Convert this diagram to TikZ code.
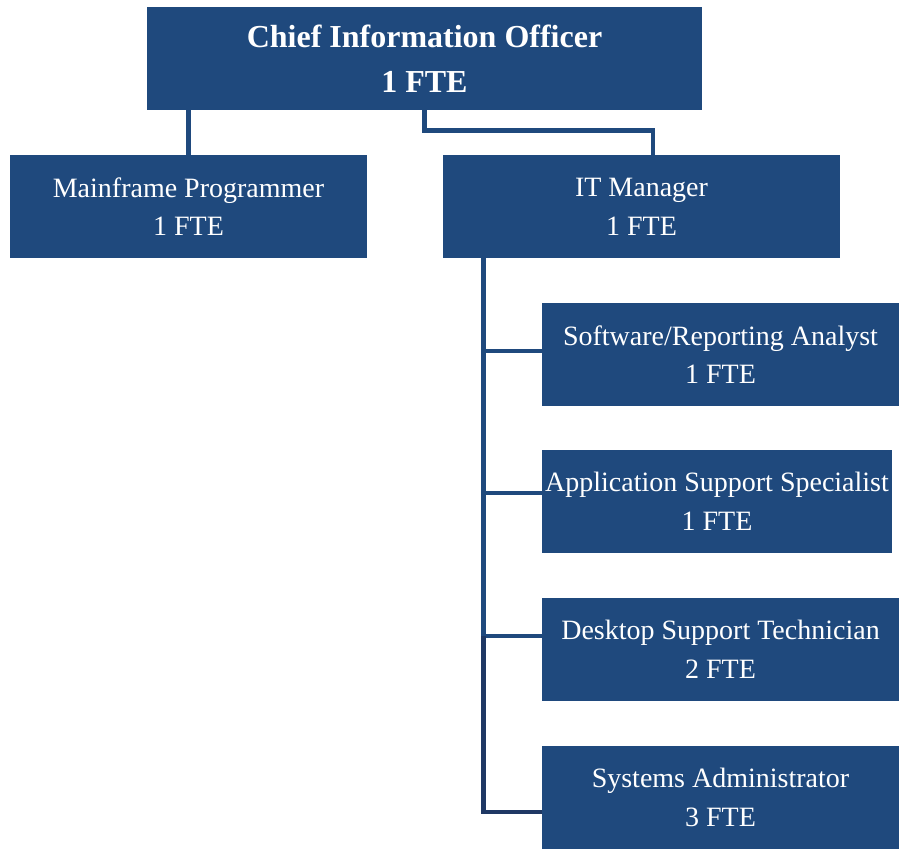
\documentclass[tikz,border=0pt]{standalone}
\usepackage{fontspec}
\setmainfont{Liberation Serif}
\definecolor{orgblue}{RGB}{31,73,125}
\definecolor{orgnavy}{RGB}{31,56,100}
\tikzset{
  post/.style={fill=orgblue, text=white, align=center, inner sep=0pt,
    minimum height=77.25pt, font=\fontsize{21}{29}\selectfont},
  head/.style={post, font=\fontsize{24}{34}\selectfont\bfseries},
  link/.style={draw=orgblue, line width=3.5pt},
}
\begin{document}
\begin{tikzpicture}[x=0.75pt,y=-0.75pt]
\useasboundingbox (0,0) rectangle (904,850);

% Draw the top of the chart
\node[head, minimum width=416.25pt] (cio) at (424.5,58.5) {Chief Information Officer\\1 FTE};
\node[post, minimum width=267.75pt] (mf)  at (188.5,206.5) {Mainframe Programmer\\1 FTE};
\node[post, minimum width=297.75pt] (itm) at (641.5,206.5) {IT Manager\\1 FTE};

% Draw the staff under the IT manager
\node[post, minimum width=267.75pt] (sw)   at (720.5,354.5) {Software/Reporting Analyst\\1 FTE};
\node[post, minimum width=262.5pt]  (app)  at (717,501.5)   {Application Support Specialist\\1 FTE};
\node[post, minimum width=267.75pt] (desk) at (720.5,649.5) {Desktop Support Technician\\2 FTE};
\node[post, minimum width=267.75pt] (sys)  at (720.5,797.5) {Systems Administrator\\3 FTE};

% Connect the chief to his reports
\draw[link] (mf.north) -- (mf.north |- cio.south);
\draw[link] (cio.south) -- ++(0,20) -| ([xshift=8.6pt]itm.north);

% Draw the spine and the branches
\coordinate (spine) at ([xshift=30.75pt]itm.south west);
\foreach \n/\dy in {sw/2.6pt, app/6.4pt, desk/10.1pt, sys/-10.9pt}
  \coordinate (b-\n) at ([yshift=\dy]\n.west);
\foreach \n in {sw, app, desk}
  \draw[link] (b-\n -| spine) -- (b-\n);
\draw[link] (spine) -- (b-desk -| spine);
\draw[link, draw=orgnavy] (b-desk -| spine) |- (b-sys);

\end{tikzpicture}
\end{document}
